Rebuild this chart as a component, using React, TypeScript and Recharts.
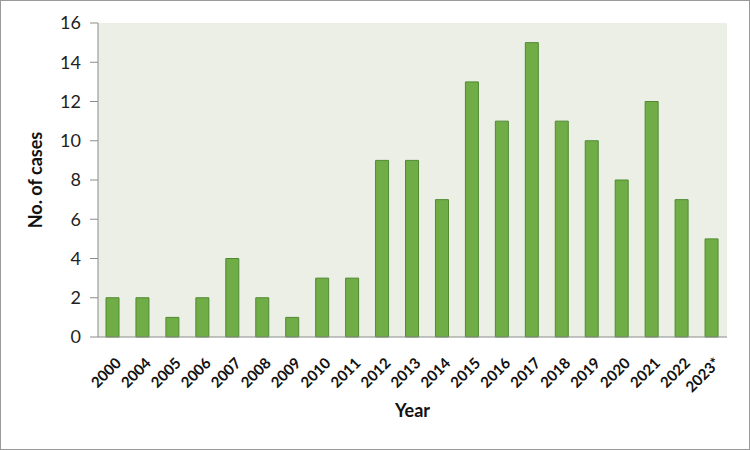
import React from 'react';
import { BarChart, Bar, XAxis, YAxis, Label } from 'recharts';

const years = ['2000','2004','2005','2006','2007','2008','2009','2010','2011','2012','2013','2014','2015','2016','2017','2018','2019','2020','2021','2022','2023*'];
const cases = [2,2,1,2,4,2,1,3,3,9,9,7,13,11,15,11,10,8,12,7,5];
const yTicks = [0,2,4,6,8,10,12,14,16];

const data = years.map((y, i) => ({ year: y, cases: cases[i] }));

const FONT = 'Lato, "Open Sans", sans-serif';

const XTick = (props: any) => {
  const { x, y, payload } = props;
  return (
    <g transform={`translate(${x + 2},${y + 12})`}>
      <text x={0} y={0} dy={10} textAnchor="end" transform="rotate(-45)" fontSize={15} fontWeight={700} fill="#111" fontFamily={FONT}>
        {payload.value}
      </text>
    </g>
  );
};

export default function App() {
  return (
    <div style={{ position: 'absolute', left: 0, top: 0, width: 748, height: 448, border: '1px solid #9a9a9a', background: '#fff' }}>
      <BarChart width={748} height={448} data={data} margin={{ top: 22, right: 22, left: 0, bottom: 0 }} barCategoryGap={0}>
        <rect x={97} y={22} width={629} height={314} fill="#ebefe6" />
        <XAxis dataKey="year" tick={<XTick />} tickLine={false} axisLine={{ stroke: '#8c8c8c' }} height={112} interval={0}>
          <Label value="Year" position="insideBottom" offset={32} fontSize={18} fontWeight={700} fill="#111" fontFamily={FONT} />
        </XAxis>
        <YAxis domain={[0, 16]} ticks={yTicks} width={97} tickLine={{ stroke: '#8c8c8c' }} tickSize={8} axisLine={{ stroke: '#8c8c8c' }} tick={{ fontSize: 18, fill: '#222', fontFamily: FONT }} tickMargin={9}>
          <Label value="No. of cases" angle={-90} position="insideLeft" offset={35} style={{ textAnchor: 'middle' }} fontSize={18} fontWeight={700} fill="#111" fontFamily={FONT} />
        </YAxis>
        <Bar dataKey="cases" fill="#70ad47" stroke="#4f8a30" strokeWidth={1} barSize={13} isAnimationActive={false} />
      </BarChart>
    </div>
  );
}
